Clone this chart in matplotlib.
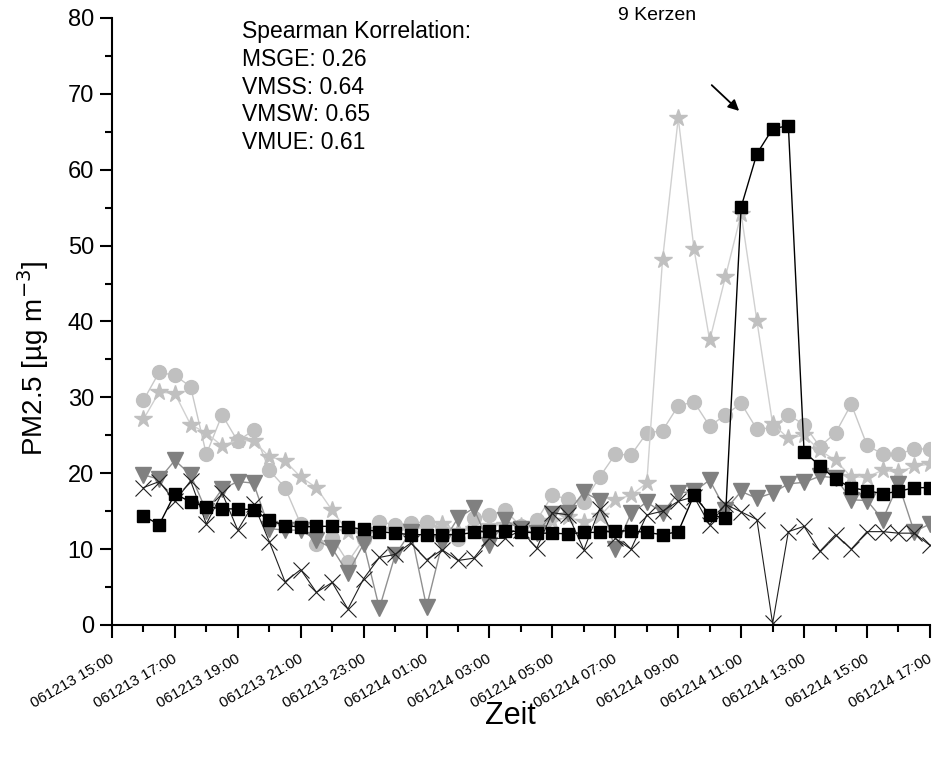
import matplotlib
matplotlib.use('Agg')
import matplotlib.pyplot as plt
import matplotlib.dates as mdates
import pandas as pd

plt.rcParams['font.family'] = ['Liberation Sans', 'DejaVu Sans']

# half-hourly PM2.5 readings, 13.12.2006 16:00 .. 14.12.2006 17:00
zeit = pd.date_range('2006-12-13 16:00', '2006-12-14 17:00', freq='30min')

quadrat = [14.4, 13.2, 17.3, 16.2, 15.6, 15.3, 15.3, 15.2, 13.8, 13.1,
           12.9, 13.0, 13.0, 12.9, 12.6, 12.3, 12.1, 11.9, 11.9, 11.9,
           11.9, 12.2, 12.4, 12.4, 12.3, 12.1, 12.1, 12.0, 12.2, 12.2,
           12.4, 12.4, 12.2, 11.9, 12.3, 17.1, 14.5, 14.1, 55.1, 62.1,
           65.4, 65.8, 22.8, 21.0, 19.2, 18.1, 17.7, 17.3, 17.6, 18.1, 18.1]
kreis = [29.6, 33.3, 32.9, 31.4, 22.5, 27.7, 24.2, 25.7, 20.4, 18.1,
         13.3, 10.7, 11.5, 8.3, 11.3, 13.6, 13.2, 13.4, 13.6, 12.8,
         11.3, 14.1, 14.5, 15.1, 13.0, 13.8, 17.1, 16.6, 16.2, 19.5,
         22.5, 22.4, 25.3, 25.6, 28.9, 29.4, 26.2, 27.7, 29.2, 25.8,
         26.0, 27.7, 26.4, 23.5, 25.3, 29.1, 23.7, 22.5, 22.5, 23.2, 23.2]
stern = [27.1, 30.7, 30.5, 26.4, 25.3, 23.6, 24.4, 24.2, 22.2, 21.6,
         19.5, 18.1, 15.1, 12.3, 12.0, 12.5, 12.4, 12.6, 12.8, 13.3,
         12.4, 12.6, 13.0, 13.2, 13.1, 12.8, 13.7, 14.2, 13.6, 14.3,
         16.5, 17.1, 18.7, 48.1, 66.8, 49.6, 37.5, 45.9, 54.2, 40.1,
         26.5, 24.6, 25.0, 23.0, 21.7, 19.5, 19.5, 20.4, 20.1, 20.9, 21.2]
dreieck = [19.8, 19.2, 21.7, 19.8, 15.0, 17.9, 18.9, 18.7, 12.7, 12.5,
           12.5, 11.2, 10.1, 6.8, 10.7, 2.2, 9.2, 12.3, 2.4, 10.8,
           14.1, 15.4, 10.5, 13.8, 12.6, 12.1, 14.6, 14.8, 17.5, 16.4,
           10.0, 14.7, 16.2, 14.8, 17.4, 17.6, 19.1, 15.2, 17.6, 16.7,
           17.4, 18.6, 18.8, 19.6, 19.4, 16.5, 16.4, 13.9, 18.6, 12.3, 13.3]
kreuz = [18.1, 18.9, 16.3, 19.0, 13.3, 17.4, 12.5, 16.0, 11.0, 5.7,
         7.3, 4.3, 5.6, 2.1, 6.1, 8.9, 9.3, 10.8, 8.6, 9.9,
         8.5, 8.8, 11.4, 11.4, 12.5, 10.1, 14.8, 14.5, 9.9, 15.3,
         11.4, 10.0, 14.5, 15.0, 16.3, 16.9, 13.2, 15.9, 14.9, 13.9,
         0.2, 12.3, 13.0, 9.7, 11.9, 10.0, 12.3, 12.3, 12.1, 12.1, 10.5]

korrelation = ['MSGE: 0.26', 'VMSS: 0.64', 'VMSW: 0.65', 'VMUE: 0.61']

fig = plt.figure(figsize=(9.33, 7.58), dpi=100)
ax = fig.add_axes([0.12, 0.1755, 0.8767, 0.8008])

ax.plot(zeit, kreis, color='#c8c8c8', lw=1, marker='o', ms=10,
        mfc='#c0c0c0', mec='#c0c0c0')
ax.plot(zeit, stern, color='#d0d0d0', lw=1, marker='*', ms=13,
        mfc='#c0c0c0', mec='#c0c0c0')
ax.plot(zeit, dreieck, color='#909090', lw=1, marker='v', ms=11,
        mfc='#808080', mec='#808080')
ax.plot(zeit, kreuz, color='#202020', lw=0.8, marker='x', ms=11,
        mec='#202020', mew=0.8)
ax.plot(zeit, quadrat, color='black', lw=1, marker='s', ms=9,
        mfc='black', mec='black')

ax.set_xlim(pd.Timestamp('2006-12-13 15:00'), pd.Timestamp('2006-12-14 17:00'))
ax.set_ylim(0, 80)

ax.xaxis.set_major_locator(mdates.HourLocator(byhour=range(1, 24, 2)))
ax.xaxis.set_minor_locator(mdates.HourLocator())
ax.xaxis.set_major_formatter(mdates.DateFormatter('%y%m%d %H:%M'))
ax.set_yticks(range(0, 81, 10))
ax.set_yticks(range(0, 81, 5), minor=True)

for s in ['top', 'right']:
    ax.spines[s].set_visible(False)
for s in ['left', 'bottom']:
    ax.spines[s].set_linewidth(1.5)

ax.tick_params(which='major', direction='out', length=9, width=1.5)
ax.tick_params(which='minor', direction='out', length=5, width=1.5)
ax.tick_params(axis='y', labelsize=17, pad=4)
ax.tick_params(axis='x', labelsize=11, pad=14)
for lab in ax.get_xticklabels():
    lab.set_rotation(30)
    lab.set_ha('right')
    lab.set_va('center_baseline')
    lab.set_rotation_mode('anchor')

ax.set_xlabel('Zeit', fontsize=22)
ax.xaxis.set_label_coords(0.487, -0.125)
ax.set_ylabel('PM2.5 [µg m$^{-3}$]', fontsize=20)
ax.yaxis.set_label_coords(-0.075, 0.44)

ax.text(0.159, 0.997, 'Spearman Korrelation:\n' + '\n'.join(korrelation),
        transform=ax.transAxes, ha='left', va='top', fontsize=16.5,
        linespacing=1.27)
ax.text(0.666, 1.004, '9 Kerzen', transform=ax.transAxes, ha='center',
        va='center', fontsize=14)
ax.annotate('', xy=(pd.Timestamp('2006-12-14 11:00'), 67.5),
            xytext=(pd.Timestamp('2006-12-14 10:00'), 71.4),
            arrowprops=dict(arrowstyle='-|>', color='black', lw=1.3,
                            mutation_scale=16))

fig.savefig('out.png', dpi=100)
